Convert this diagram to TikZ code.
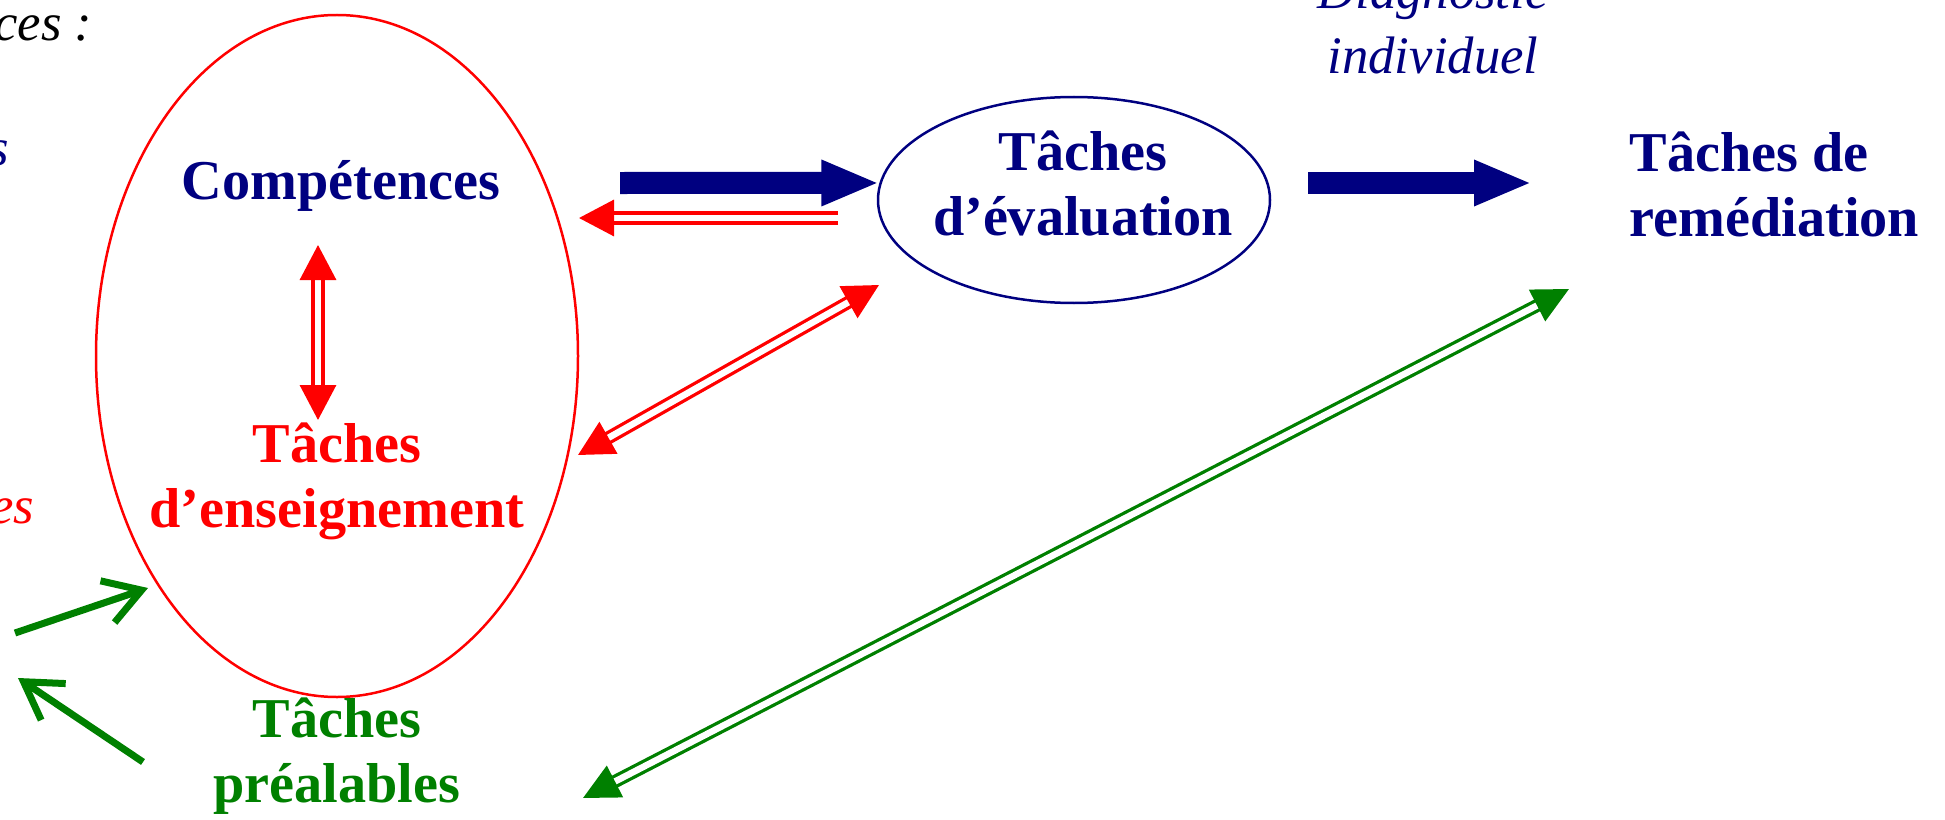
\documentclass[tikz,border=0pt]{standalone}
\usepackage{fontspec}
\setmainfont{Liberation Serif}
\usetikzlibrary{arrows.meta,shapes.geometric}
\definecolor{marine}{RGB}{0,0,128}
\definecolor{vert}{RGB}{0,128,0}
\begin{document}
\begin{tikzpicture}
	[every node/.style={font=\fontsize{16}{18.5}\selectfont\bfseries,
	align=center, inner sep=0pt},
	italique/.style={font=\fontsize{15}{18.5}\selectfont\itshape},
	cadre/.style={ellipse, line width=0.025cm},
	fleche/.style={marine, line width=0.22cm, -{Triangle[length=0.58cm,width=0.42cm]}},
	dblrouge/.style={draw=red, double=white, line width=0.033cm,
	double distance=0.065cm, >={Triangle[length=0.35cm,width=0.36cm]}},
	dblvert/.style={draw=vert, double=white, line width=0.033cm,
	double distance=0.065cm, >={Triangle[length=0.36cm,width=0.35cm]}},
	flechevert/.style={vert, line width=0.07cm,
	-{Straight Barb[length=0.36cm,width=0.44cm]}}]
	\useasboundingbox (0,0) rectangle (19.45,8.19);

	% les deux ellipses
	\node[cadre, draw=red, minimum width=4.82cm, minimum height=6.82cm] (ensc) at (3.37,4.63) {};
	\node[cadre, draw=marine, minimum width=3.92cm, minimum height=2.06cm] (evalc) at (10.74,6.19) {};

	% textes
	\node[marine, anchor=base] (comp) at (3.41,6.19) {Compétences};
	\node[red] (ens) at (3.37,3.38) {Tâches\\d’enseignement};
	\node[marine] (eval) at (10.83,6.35) {Tâches\\d’évaluation};
	\node[marine, align=left, anchor=west] (remed) at (16.29,6.35) {Tâches de\\remédiation};
	\node[vert] (prea) at (3.37,0.63) {Tâches\\préalables};
	\node[marine, italique] (diag) at (14.33,7.95) {Diagnostic\\individuel};

	% bouts de mots coupes a gauche
	\node[italique, anchor=base east] (ces) at (0.93,7.79) {ces :};
	\node[italique, marine, anchor=base east] (s) at (0.10,6.54) {s};
	\node[italique, red, anchor=base east] (es) at (0.35,2.96) {es};

	% extremites des fleches
	\coordinate (b1) at (6.20,6.36);
	\coordinate (b2) at (13.08,6.36);
	\coordinate (b3) at (15.32,6.36);
	\coordinate (r1) at (8.38,6.01);
	\coordinate (r2) at (5.79,6.01);
	\coordinate (r3) at (3.18,5.74);
	\coordinate (r4) at (3.18,3.99);
	\coordinate (r5) at (5.78,3.64);
	\coordinate (r6) at (8.79,5.34);
	\coordinate (v1) at (5.83,0.21);
	\coordinate (v2) at (15.69,5.30);
	\coordinate (v3) at (0.15,1.86);
	\coordinate (v4) at (1.48,2.31);
	\coordinate (v5) at (1.43,0.57);
	\coordinate (v6) at (0.18,1.41);

	\draw[fleche] (b1) -- (evalc.175);
	\draw[fleche] (b2) -- (b3);
	\draw[dblrouge, ->] (r1) -- (r2);
	\foreach \from/\to in {r3/r4,r5/r6}
	\draw[dblrouge, <->] (\from) -- (\to);
	\draw[dblvert, <->] (v1) -- (v2);
	\foreach \from/\to in {v3/v4,v5/v6}
	\draw[flechevert] (\from) -- (\to);
\end{tikzpicture}
\end{document}
